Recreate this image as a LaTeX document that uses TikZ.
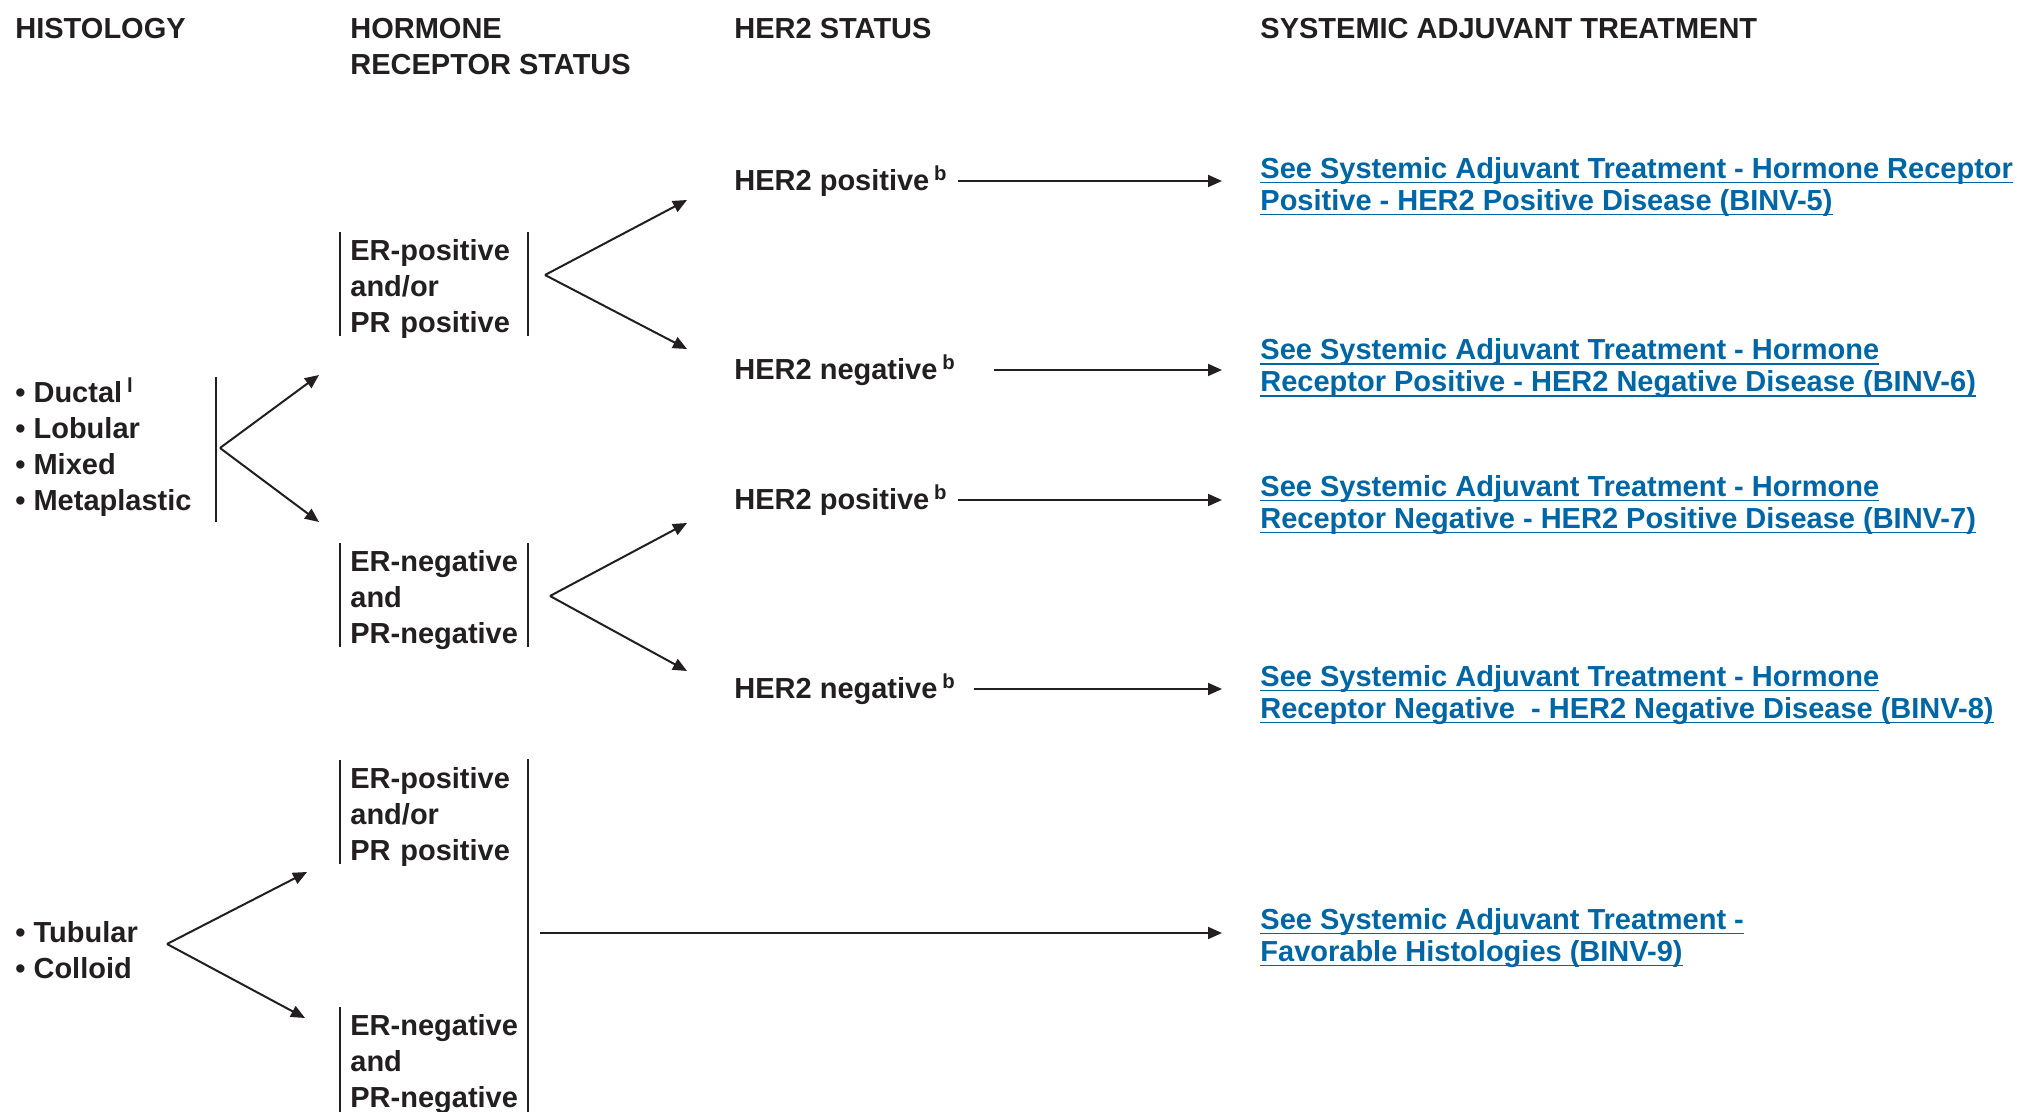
\documentclass[tikz,border=0pt]{standalone}
\usepackage{fontspec}
\setmainfont{Liberation Sans}
\usetikzlibrary{positioning, arrows.meta, calc}

\definecolor{nccntext}{RGB}{35,31,32}
\definecolor{nccnlink}{RGB}{0,102,166}

% Underlined link lines
\newlength{\lnkwd}
\newcommand{\lnk}[1]{\settowidth{\lnkwd}{#1}\rlap{\rule[-2.5pt]{\lnkwd}{0.9pt}}#1}

\begin{document}
\begin{tikzpicture}[
    x=0.5pt, y=-0.5pt,
    font=\bfseries\fontsize{14.5}{18}\selectfont,
    text=nccntext,
    % Styles
    header/.style={ % Column headers
        anchor=north west,
        inner sep=0pt,
        align=left
    },
    txt/.style={ % Plain text nodes
        anchor=west,
        inner sep=0pt,
        align=left
    },
    hrbox/.style={ % Hormone receptor boxes
        anchor=west,
        text width=88.5pt,
        inner xsep=0pt,
        inner ysep=1pt,
        align=left
    },
    treat/.style={ % Blue treatment links
        anchor=west,
        inner sep=0pt,
        align=left,
        text=nccnlink,
        font=\bfseries\fontsize{14.5}{16}\selectfont
    },
    bar/.style={
        line width=1pt,
        draw=nccntext
    },
    arrow/.style={
        -{Triangle[length=7pt, width=6pt]},
        line width=1pt,
        draw=nccntext
    }
]
    \useasboundingbox (0,0) rectangle (2026,1112);

    % Headers
    \node[header] (hHist) at (15,18) {HISTOLOGY};
    \node[header] (hHR) at (350,18) {HORMONE\\RECEPTOR STATUS};
    \node[header] (hHer) at (734,18) {HER2 STATUS};
    \node[header] (hTreat) at (1260,18) {SYSTEMIC ADJUVANT TREATMENT};

    % Histology
    \node[header] (hist1) at (15,377)
        {\textbullet\ Ductal\,\textsuperscript{l}\\\textbullet\ Lobular\\\textbullet\ Mixed\\\textbullet\ Metaplastic};
    \node[header] (hist2) at (15,921)
        {\textbullet\ Tubular\\\textbullet\ Colloid};
    \draw[bar] (216,377) -- (216,522);

    % Hormone receptor boxes
    \node[hrbox] (erA) at (350,289) {ER-positive\\and/or\\PR positive};
    \node[hrbox] (erB) at (350,600) {ER-negative\\and\\PR-negative};
    \node[hrbox] (erC) at (350,817) {ER-positive\\and/or\\PR positive};
    \node[hrbox] (erD) at (350,1064) {ER-negative\\and\\PR-negative};
    \foreach \X in {A, B} {
        \draw[bar] ([xshift=-5pt, yshift=2.5pt]er\X.north west) -- ([xshift=-5pt, yshift=2.5pt]er\X.south west)
            ([yshift=2.5pt]er\X.north east) -- ([yshift=2.5pt]er\X.south east);
    }
    \draw[bar] ([xshift=-5pt, yshift=2.5pt]erC.north west) -- ([xshift=-5pt, yshift=2.5pt]erC.south west);
    \draw[bar] ([xshift=-5pt, yshift=2.5pt]erD.north west) -- ([xshift=-5pt]erD.south west |- 0,1112);
    \draw[bar] ([yshift=3pt]erC.north east) -- (erD.south east |- 0,1112);

    % HER2 status
    \node[txt] (her1) at (734,181) {HER2 positive\,\textsuperscript{b}};
    \node[txt] (her2) at (734,370) {HER2 negative\,\textsuperscript{b}};
    \node[txt] (her3) at (734,500) {HER2 positive\,\textsuperscript{b}};
    \node[txt] (her4) at (734,689) {HER2 negative\,\textsuperscript{b}};

    % Treatment links
    \node[treat] (tr1) at (1260,187)
        {\lnk{See Systemic Adjuvant Treatment - Hormone Receptor}\\\lnk{Positive - HER2 Positive Disease (BINV-5)}};
    \node[treat] (tr2) at (1260,368.5)
        {\lnk{See Systemic Adjuvant Treatment - Hormone}\\\lnk{Receptor Positive - HER2 Negative Disease (BINV-6)}};
    \node[treat] (tr3) at (1260,505)
        {\lnk{See Systemic Adjuvant Treatment - Hormone}\\\lnk{Receptor Negative - HER2 Positive Disease (BINV-7)}};
    \node[treat] (tr4) at (1260,695)
        {\lnk{See Systemic Adjuvant Treatment - Hormone}\\\lnk{Receptor Negative\ \ - HER2 Negative Disease (BINV-8)}};
    \node[treat] (tr5) at (1260,938)
        {\lnk{See Systemic Adjuvant Treatment -}\\\lnk{Favorable Histologies (BINV-9)}};

    % Fork apexes and arrow tips
    \coordinate (f1) at (220,448);
    \coordinate (f1a) at (319,375);
    \coordinate (f1b) at (319,522);
    \coordinate (f2) at (545,275);
    \coordinate (f2a) at (687,200);
    \coordinate (f2b) at (687,349);
    \coordinate (f3) at (550,596);
    \coordinate (f3a) at (687,523);
    \coordinate (f3b) at (687,671);
    \coordinate (f4) at (167,944);
    \coordinate (f4a) at (307,872);
    \coordinate (f4b) at (305,1018);
    \foreach \X in {1, 2, 3, 4} {
        \draw[arrow] (f\X) -- (f\X a);
        \draw[arrow] (f\X) -- (f\X b);
    }

    % Arrows to treatment
    \foreach \X/\S in {1/5pt, 2/19pt, 3/5pt, 4/9pt} {
        \draw[arrow, shorten >=19pt] ([xshift=\S]her\X.east)
            -- (her\X.east -| tr\X.west);
    }
    \coordinate (j5) at (540,933);
    \draw[arrow, shorten >=19pt] (j5) -- (j5 -| tr5.west);

\end{tikzpicture}
\end{document}
